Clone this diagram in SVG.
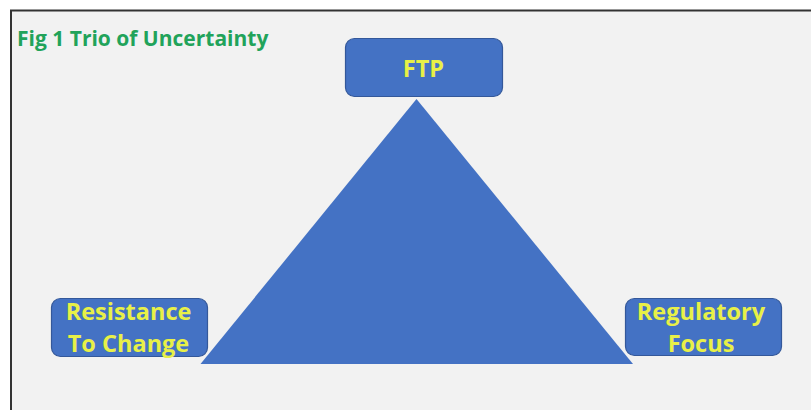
<svg xmlns="http://www.w3.org/2000/svg" width="811" height="410" viewBox="0 0 811 410">
<style>
.box{fill:#4472C4;stroke:#34589a;stroke-width:1.2}
.lbl{font-family:"Open Sans","Liberation Sans",sans-serif;font-weight:bold;fill:#E8F047;text-anchor:middle}
.title{font-family:"Open Sans","Liberation Sans",sans-serif;font-weight:bold;fill:#21A35A;font-size:21px}
</style>
<rect width="811" height="410" fill="#ffffff"/>
<rect x="11" y="10.5" width="820" height="420" fill="#F2F2F2" stroke="#333333" stroke-width="2"/>
<text class="title" x="17" y="46">Fig 1 Trio of Uncertainty</text>
<g id="connectors">
<polygon points="416.5,99 200.5,364 633,364" fill="#4472C4"/>
</g>
<g id="ftp">
<rect class="box" x="345.5" y="38.5" width="157" height="58" rx="9"/>
<text class="lbl" x="423.5" y="77" font-size="23.5">FTP</text>
</g>
<g id="resistance">
<rect class="box" x="51.5" y="298.5" width="156" height="58" rx="9"/>
<text class="lbl" x="128.5" y="320" font-size="23.5">Resistance</text>
<text class="lbl" x="128.5" y="352" font-size="23.5">To Change</text>
</g>
<g id="regulatory">
<rect class="box" x="625.5" y="298.5" width="156" height="57" rx="9"/>
<text class="lbl" x="701" y="320" font-size="23.5">Regulatory</text>
<text class="lbl" x="701" y="352" font-size="23.5">Focus</text>
</g>
</svg>
